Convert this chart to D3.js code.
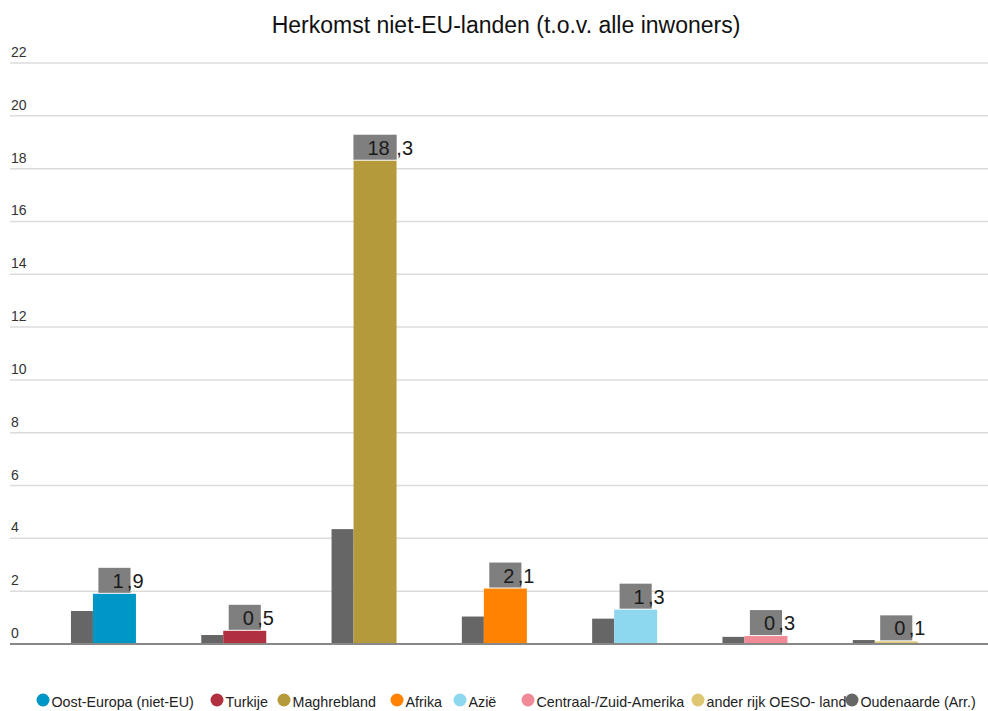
<!DOCTYPE html>
<html>
<head>
<meta charset="utf-8">
<script src="https://cdn.jsdelivr.net/npm/d3@7"></script>
<style>
  body { margin: 0; background: #fff; }
  text { font-family: "Liberation Sans", Arial, sans-serif; }
</style>
</head>
<body>
<div id="chart"></div>
<script>
// data
var categories = ["Oost-Europa (niet-EU)", "Turkije", "Maghrebland", "Afrika", "Azië", "Centraal-/Zuid-Amerika", "ander rijk OESO- land"];
var regionValues = [1.9, 0.5, 18.3, 2.1, 1.3, 0.3, 0.1];
var oudenaardeValues = [1.25, 0.34, 4.35, 1.04, 0.96, 0.27, 0.15];
var colors = ["#0096c6", "#b0303f", "#b59a3c", "#ff8200", "#8ed8ef", "#ef8a96", "#dfc673"];
var greyColor = "#666666";
var yTicks = [0, 2, 4, 6, 8, 10, 12, 14, 16, 18, 20, 22];
var legendNames = categories.concat(["Oudenaarde (Arr.)"]);
var legendColors = colors.concat([greyColor]);

var width = 988, height = 711;

var svg = d3.select("#chart")
    .append("svg")
    .attr("width", width)
    .attr("height", height);

// title
svg.append("text")
    .attr("x", 506)
    .attr("y", 33)
    .attr("text-anchor", "middle")
    .style("font-size", "23px")
    .style("fill", "#111")
    .text("Herkomst niet-EU-landen (t.o.v. alle inwoners)");

// scales
var y = d3.scaleLinear()
    .domain([0, 22])
    .range([644, 63]);

var x = d3.scaleBand()
    .domain(categories)
    .range([38.3, 950.4])
    .padding(0);

// gridlines + tick labels
svg.append("g")
    .selectAll("line")
    .data(yTicks.filter(function (d) { return d > 0; }))
    .enter()
    .append("line")
    .attr("x1", 10)
    .attr("x2", 988)
    .attr("y1", function (d) { return y(d); })
    .attr("y2", function (d) { return y(d); })
    .attr("stroke", "#dcdcdc")
    .attr("stroke-width", 1.5);

svg.append("g")
    .selectAll("text")
    .data(yTicks)
    .enter()
    .append("text")
    .attr("x", 11)
    .attr("y", function (d) { return y(d) - 6; })
    .style("font-size", "14px")
    .style("fill", "#333")
    .text(function (d) { return d; });

var greyW = 22, colW = 43;
function groupStart(c) { return x(c) + x.bandwidth() / 2 - (greyW + colW) / 2; }

// Oudenaarde bars
svg.append("g")
    .selectAll("rect")
    .data(categories)
    .enter()
    .append("rect")
    .attr("x", function (d) { return groupStart(d); })
    .attr("width", greyW)
    .attr("y", function (d, i) { return y(oudenaardeValues[i]); })
    .attr("height", function (d, i) { return y(0) - y(oudenaardeValues[i]); })
    .attr("fill", greyColor);

// region bars
svg.append("g")
    .selectAll("rect")
    .data(categories)
    .enter()
    .append("rect")
    .attr("x", function (d) { return groupStart(d) + greyW; })
    .attr("width", colW)
    .attr("y", function (d, i) { return y(regionValues[i]); })
    .attr("height", function (d, i) { return y(0) - y(regionValues[i]); })
    .attr("fill", function (d, i) { return colors[i]; });

// zero line
svg.append("line")
    .attr("x1", 10)
    .attr("x2", 988)
    .attr("y1", y(0))
    .attr("y2", y(0))
    .attr("stroke", "#888")
    .attr("stroke-width", 2);

// value labels (grey box behind the integer part)
var labels = svg.append("g");
categories.forEach(function (c, i) {
    var v = regionValues[i];
    var parts = v.toFixed(1).split(".");
    var cx = groupStart(c) + greyW + colW / 2;
    var g = labels.append("g");
    var box = g.append("rect");
    var intText = g.append("text")
        .style("font-size", "20px")
        .style("fill", "#1a1a1a")
        .text(parts[0]);
    var intW = intText.node().getComputedTextLength();
    var boxW = intW + 21;
    var boxLeft = cx - boxW / 2;
    var bottom = y(v) - 1;
    box.attr("x", boxLeft)
        .attr("y", bottom - 25)
        .attr("width", boxW)
        .attr("height", 25)
        .attr("fill", "#7f7f7f");
    intText.attr("x", boxLeft + 14).attr("y", bottom - 5);
    g.append("text")
        .attr("x", boxLeft + 14 + intW * 1.3)
        .attr("y", bottom - 5)
        .style("font-size", "20px")
        .style("fill", "#1a1a1a")
        .text("," + parts[1]);
});

// legend
var legendX = [43, 217, 284, 397, 460, 528, 698, 852];
var legend = svg.append("g");
legendNames.forEach(function (name, i) {
    legend.append("text")
        .attr("x", legendX[i] + 8.5)
        .attr("y", 707)
        .style("font-size", "14.3px")
        .style("fill", "#222")
        .text(name);
    legend.append("circle")
        .attr("cx", legendX[i])
        .attr("cy", 700)
        .attr("r", 6.5)
        .attr("fill", legendColors[i]);
});
</script>
</body>
</html>
